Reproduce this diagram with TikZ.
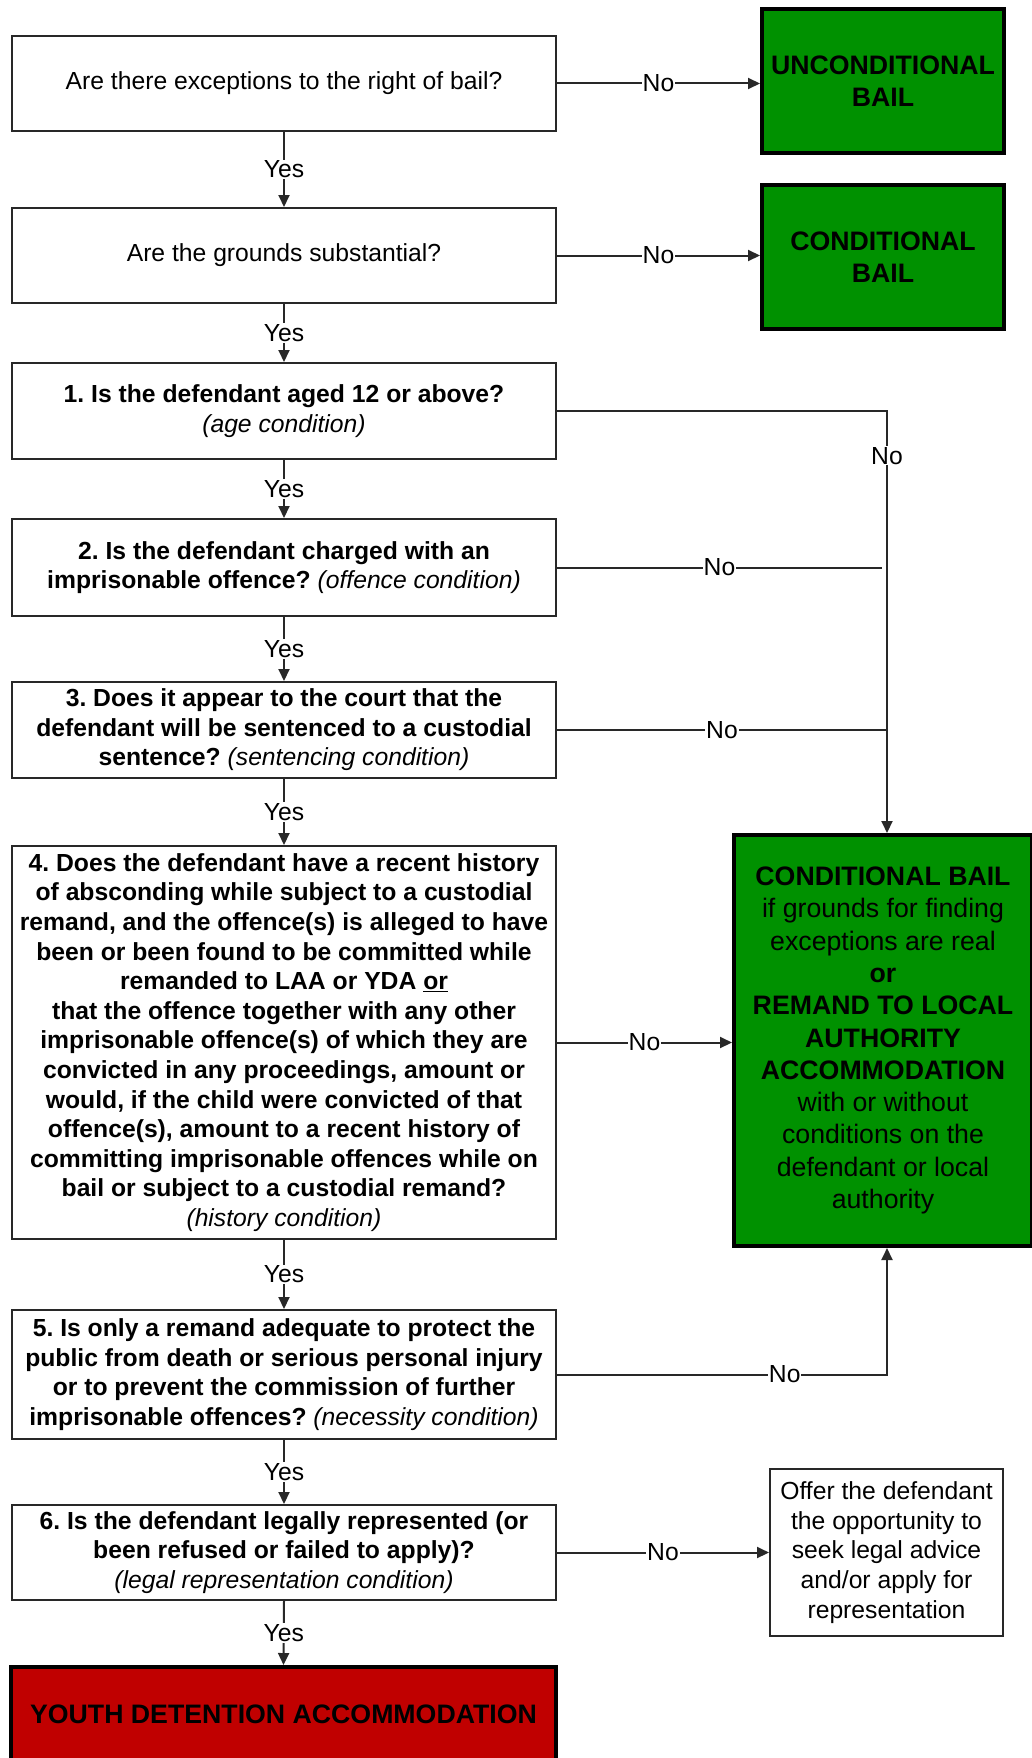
\documentclass[tikz,border=0pt]{standalone}
\usepackage{fontspec}
\setmainfont{Liberation Sans}
\usetikzlibrary{arrows.meta}
\frenchspacing
\definecolor{gfill}{RGB}{0,145,0}
\definecolor{rfill}{RGB}{192,0,0}
\definecolor{lcol}{RGB}{40,40,40}
\tikzset{
  qbox/.style={draw=lcol, line width=2pt, fill=white, inner sep=0pt, align=center,
    font=\fontsize{24.7}{29.6}\selectfont},
  gbox/.style={draw=black, line width=4pt, fill=gfill, inner sep=0pt, align=center,
    font=\fontsize{26.7}{32.3}\selectfont},
  rbox/.style={draw=black, line width=4pt, fill=rfill, inner sep=0pt, align=center,
    font=\fontsize{26.7}{32.3}\selectfont\bfseries},
  obox/.style={draw=lcol, line width=2pt, fill=white, inner sep=0pt, align=center,
    font=\fontsize{24.7}{29.7}\selectfont},
  conn/.style={draw=lcol, line width=2pt},
  arr/.style={conn, -{Triangle[length=12pt,width=11pt]}},
  lab/.style={fill=white, inner sep=1pt, font=\fontsize{24.7}{29.6}\selectfont},
}
\begin{document}
\begin{tikzpicture}[x=1pt,y=-1pt]
\clip (0,0) rectangle (1032,1758);
\fill[white] (0,0) rectangle (1032,1758);

% left column
\node[qbox, minimum width=544pt, minimum height=95pt] (b1) at (284,83.5)
  {Are there exceptions to the right of bail?};
\node[qbox, minimum width=544pt, minimum height=95pt] (b2) at (284,255.5)
  {Are the grounds substantial?};
\node[qbox, minimum width=544pt, minimum height=96pt] (q1) at (284,411)
  {\textbf{1. Is the defendant aged 12 or above?}\\\textit{(age condition)}};
\node[qbox, minimum width=544pt, minimum height=97pt] (q2) at (284,567.5)
  {\textbf{2. Is the defendant charged with an}\\\textbf{imprisonable offence?} \textit{(offence condition)}};
\node[qbox, minimum width=544pt, minimum height=96pt] (q3) at (284,730)
  {\textbf{3. Does it appear to the court that the}\\\textbf{defendant will be sentenced to a custodial}\\\textbf{sentence?} \textit{(sentencing condition)}};
\node[qbox, minimum width=544pt, minimum height=393pt] (q4) at (284,1042.5)
  {\bfseries 4. Does the defendant have a recent history\\
   \bfseries of absconding while subject to a custodial\\
   \bfseries remand, and the offence(s) is alleged to have\\
   \bfseries been or been found to be committed while\\
   \bfseries remanded to LAA or YDA \underline{or}\\
   \bfseries that the offence together with any other\\
   \bfseries imprisonable offence(s) of which they are\\
   \bfseries convicted in any proceedings, amount or\\
   \bfseries would, if the child were convicted of that\\
   \bfseries offence(s), amount to a recent history of\\
   \bfseries committing imprisonable offences while on\\
   \bfseries bail or subject to a custodial remand?\\
   \textit{(history condition)}};
\node[qbox, minimum width=544pt, minimum height=129pt] (q5) at (284,1374.5)
  {\textbf{5. Is only a remand adequate to protect the}\\\textbf{public from death or serious personal injury}\\\textbf{or to prevent the commission of further}\\\textbf{imprisonable offences?} \textit{(necessity condition)}};
\node[qbox, minimum width=544pt, minimum height=95pt] (q6) at (284,1552.5)
  {\textbf{6. Is the defendant legally represented (or}\\\textbf{been refused or failed to apply)?}\\\textit{(legal representation condition)}};
\node[rbox, minimum width=545pt, minimum height=95pt] (yd) at (283.5,1714.5)
  {YOUTH DETENTION ACCOMMODATION};

% right column
\node[gbox, minimum width=242pt, minimum height=144pt] (ub) at (883,81)
  {\textbf{UNCONDITIONAL}\\\textbf{BAIL}};
\node[gbox, minimum width=242pt, minimum height=144pt] (cb) at (883,257)
  {\textbf{CONDITIONAL}\\\textbf{BAIL}};
\node[gbox, minimum width=298pt, minimum height=411pt] (cr) at (883,1040.5)
  {\textbf{CONDITIONAL BAIL}\\if grounds for finding\\exceptions are real\\\textbf{or}\\
   \textbf{REMAND TO LOCAL}\\\textbf{AUTHORITY}\\\textbf{ACCOMMODATION}\\
   with or without\\conditions on the\\defendant or local\\authority};
\node[obox, minimum width=233pt, minimum height=167pt] (of) at (886.5,1552.5)
  {Offer the defendant\\the opportunity to\\seek legal advice\\and/or apply for\\representation};

\coordinate (vx) at (887,0);
\coordinate (q2end) at (882,567.5);

% Yes connectors
\draw[arr] (b1.south) -- node[lab]{Yes} (b2.north);
\draw[arr] (b2.south) -- node[lab]{Yes} (q1.north);
\draw[arr] (q1.south) -- node[lab]{Yes} (q2.north);
\draw[arr] (q2.south) -- node[lab]{Yes} (q3.north);
\draw[arr] (q3.south) -- node[lab]{Yes} (q4.north);
\draw[arr] (q4.south) -- node[lab]{Yes} (q5.north);
\draw[arr] (q5.south) -- node[lab]{Yes} (q6.north);
\draw[arr] (q6.south) -- node[lab]{Yes} (yd.north);

% No connectors
\draw[arr] (b1.east) -- node[lab]{No} (b1.east -| ub.west);
\draw[arr] (b2.east) -- node[lab]{No} (b2.east -| cb.west);
\draw[arr] (q1.east) -- (q1.east -| vx) -- node[lab,pos=0.106]{No} (vx |- cr.north);
\draw[conn] (q2.east) -- node[lab]{No} (q2end);
\draw[conn] (q3.east) -- node[lab]{No} (q3.east -| vx);
\draw[arr] (q4.east) -- node[lab]{No} (q4.east -| cr.west);
\draw[arr] (q5.east) -- node[lab,pos=0.69]{No} (q5.east -| vx) -- (vx |- cr.south);
\draw[arr] (q6.east) -- node[lab]{No} (q6.east -| of.west);
\end{tikzpicture}
\end{document}
